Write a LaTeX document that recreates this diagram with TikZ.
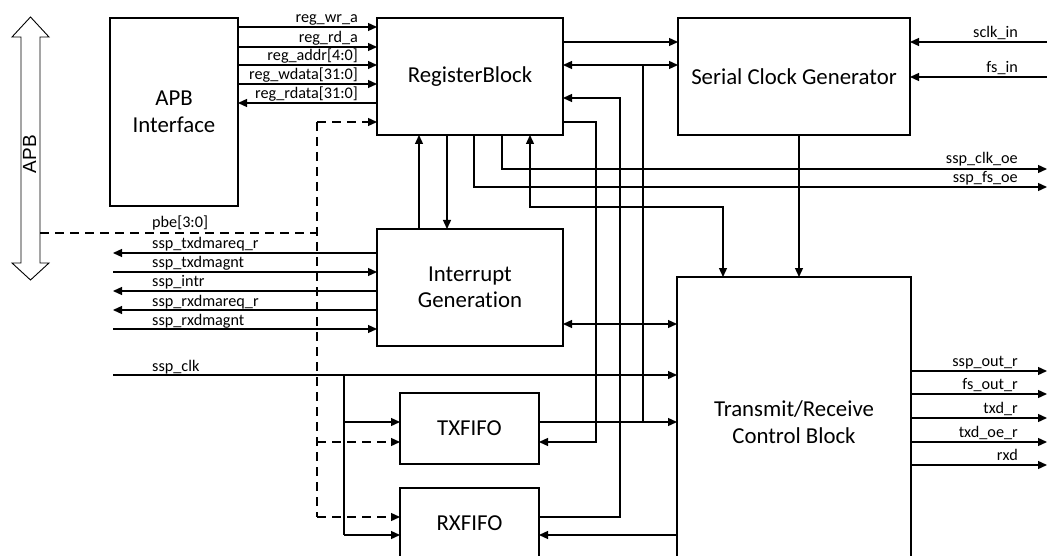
\documentclass[tikz,border=0pt]{standalone}
\usepackage{fontspec}
\setmainfont{Carlito}[Ligatures=NoCommon]
\newfontfamily\arialf{Liberation Sans}
\usetikzlibrary{arrows.meta}
\begin{document}
\begin{tikzpicture}[x=1pt,y=-1pt,
  blk/.style={draw,line width=1.3pt,inner sep=0pt,outer sep=0pt,anchor=north west,align=center,font=\fontsize{22.8}{26.5}\selectfont},
  ln/.style={line width=1.3pt},
  sig/.style={line width=1.3pt,-{Triangle[length=9pt,width=8pt]}},
  sigb/.style={line width=1.3pt,{Triangle[length=9pt,width=8pt]}-{Triangle[length=9pt,width=8pt]}},
  dln/.style={line width=1.3pt,dash pattern=on 9pt off 6pt},
  dsig/.style={dln,-{Triangle[length=9pt,width=8pt]}},
  lblr/.style={anchor=base east,inner sep=0pt,font=\fontsize{16.2}{16.2}\selectfont},
  lbll/.style={anchor=base west,inner sep=0pt,font=\fontsize{16.2}{16.2}\selectfont}]
\useasboundingbox (0,0) rectangle (1047,556);
\fill[white] (0,0) rectangle (1047,556);

% APB bus
\draw[line width=0.9pt] (30.5,17) -- (49,37) -- (40,37) -- (40,263) -- (49,263) -- (30.5,280) -- (12,263) -- (21,263) -- (21,37) -- (12,37) -- cycle;
\node[font=\arialf\fontsize{19}{19}\selectfont,rotate=90,inner sep=0pt] (apblbl) at (29.5,154) {APB};
\coordinate (apbbus) at (40,233);

% blocks
\node[blk,minimum width=128pt,minimum height=188pt] (apbif) at (110,18) {APB\\Interface};
\node[blk,minimum width=186pt,minimum height=117pt] (rb) at (377,18) {RegisterBlock};
\node[blk,minimum width=232pt,minimum height=117pt] (scg) at (678,18) {Serial Clock Generator};
\node[blk,minimum width=186pt,minimum height=117pt] (ig) at (377,229) {Interrupt\\Generation};
\node[blk,minimum width=139pt,minimum height=71pt] (tx) at (400,393) {TXFIFO};
\node[blk,minimum width=139pt,minimum height=71pt] (rx) at (400,488) {RXFIFO};
\node[blk,minimum width=234pt,minimum height=290pt] (trc) at (677,277) {Transmit/Receive\\Control Block};

% APB interface <-> register block
\draw[sig] (apbif.east |- 0,27) -- (rb.west |- 0,27);
\draw[sig] (apbif.east |- 0,47) -- (rb.west |- 0,47);
\draw[sig] (apbif.east |- 0,65) -- (rb.west |- 0,65);
\draw[sig] (apbif.east |- 0,84) -- (rb.west |- 0,84);
\draw[sig] (rb.west |- 0,103) -- (apbif.east |- 0,103);
\node[lblr] (l1) at (358,22.5) {reg\_wr\_a};
\node[lblr] (l2) at (358,42.5) {reg\_rd\_a};
\node[lblr] (l3) at (358,60.5) {reg\_addr[4:0]};
\node[lblr] (l4) at (358,79.5) {reg\_wdata[31:0]};
\node[lblr] (l5) at (358,98.5) {reg\_rdata[31:0]};

% dashed pbe
\coordinate (dtop) at (317,122);
\coordinate (dpbe) at (317,233);
\coordinate (dbot) at (317,517);
\draw[dln] (apbbus) -- (dpbe);
\draw[dln] (dtop) -- (dbot);
\draw[dsig] (dtop) -- (rb.west |- dtop);
\draw[dsig] (317,442) -- (tx.west |- 0,442);
\draw[dsig] (dbot) -- (rx.west |- dbot);
\node[lbll] (lpbe) at (152,228) {pbe[3:0]};

% interrupt generation left side
\coordinate (s1) at (113,253);
\coordinate (s2) at (113,272);
\coordinate (s3) at (113,291);
\coordinate (s4) at (113,310);
\coordinate (s5) at (113,329);
\draw[sig] (ig.west |- s1) -- (s1);
\draw[sig] (s2) -- (ig.west |- s2);
\draw[sig] (ig.west |- s3) -- (s3);
\draw[sig] (ig.west |- s4) -- (s4);
\draw[sig] (s5) -- (ig.west |- s5);
\node[lbll] (ls1) at (152,249) {ssp\_txdmareq\_r};
\node[lbll] (ls2) at (152,268) {ssp\_txdmagnt};
\node[lbll] (ls3) at (152,287) {ssp\_intr};
\node[lbll] (ls4) at (152,306) {ssp\_rxdmareq\_r};
\node[lbll] (ls5) at (152,325) {ssp\_rxdmagnt};

% ssp_clk
\coordinate (clkin) at (113,375);
\draw[sig] (clkin) -- (trc.west |- clkin);
\node[lbll] (lclk) at (152,371) {ssp\_clk};
\draw[ln] (344,375) -- (344,535);
\draw[sig] (344,422) -- (tx.west |- 0,422);
\draw[sig] (344,535) -- (rx.west |- 0,535);

% register block right side
\draw[sig] (rb.east |- 0,42) -- (scg.west |- 0,42);
\draw[sigb] (rb.east |- 0,65) -- (scg.west |- 0,65);
\draw[ln] (643,65) -- (643,422);
\draw[sig] (tx.east |- 0,422) -- (trc.west |- 0,422);
\draw[sig] (rx.east |- 0,517) -| (620,98) -- (rb.east |- 0,98);
\draw[sig] (rb.east |- 0,122) -| (596,442) -- (tx.east |- 0,442);
\draw[sigb] (ig.east |- 0,324) -- (trc.west |- 0,324);
\draw[sig] (trc.west |- 0,535) -- (rx.east |- 0,535);

% register block bottom
\draw[sig] (ig.north -| 419,0) -- (rb.south -| 419,0);
\draw[sig] (rb.south -| 447,0) -- (ig.north -| 447,0);
\coordinate (fsoe) at (1047,187);
\coordinate (clkoe) at (1047,169);
\draw[sig] (rb.south -| 474,0) |- (fsoe);
\draw[sig] (rb.south -| 502,0) |- (clkoe);
\draw[sigb] (rb.south -| 530,0) |- (723,207) -- (trc.north -| 723,0);
\node[lblr] (lclkoe) at (1018,164) {ssp\_clk\_oe};
\node[lblr] (lfsoe) at (1018,182.5) {ssp\_fs\_oe};

% serial clock generator
\draw[sig] (scg.south -| 799,0) -- (trc.north -| 799,0);
\coordinate (sclkin) at (1047,42);
\coordinate (fsin) at (1047,77);
\draw[sig] (sclkin) -- (scg.east |- sclkin);
\draw[sig] (fsin) -- (scg.east |- fsin);
\node[lblr] (lsclk) at (1018,37.5) {sclk\_in};
\node[lblr] (lfsin) at (1018,72.5) {fs\_in};

% transmit outputs
\coordinate (o1) at (1047,371);
\coordinate (o2) at (1047,394);
\coordinate (o3) at (1047,418);
\coordinate (o4) at (1047,442);
\coordinate (o5) at (1047,465);
\draw[sig] (trc.east |- o1) -- (o1);
\draw[sig] (trc.east |- o2) -- (o2);
\draw[sig] (trc.east |- o3) -- (o3);
\draw[sig] (trc.east |- o4) -- (o4);
\draw[sig] (trc.east |- o5) -- (o5);
\node[lblr] (lo1) at (1018,366.5) {ssp\_out\_r};
\node[lblr] (lo2) at (1018,389.5) {fs\_out\_r};
\node[lblr] (lo3) at (1018,413.5) {txd\_r};
\node[lblr] (lo4) at (1018,437.5) {txd\_oe\_r};
\node[lblr] (lo5) at (1018,460.5) {rxd};
\end{tikzpicture}
\end{document}
